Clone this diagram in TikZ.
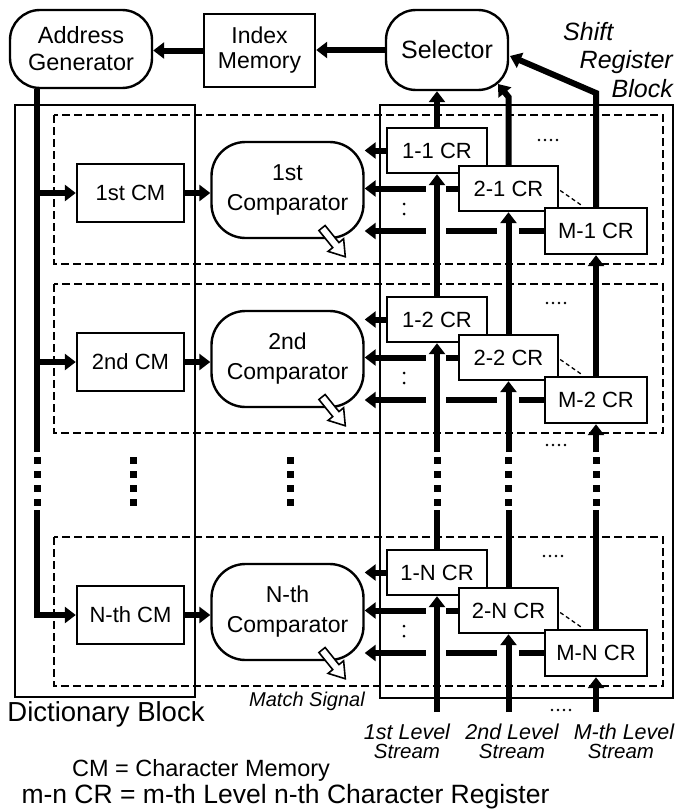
\documentclass[tikz,border=0pt]{standalone}
\usepackage{fontspec}
\setmainfont{Liberation Sans}
\usetikzlibrary{arrows.meta,calc}
\newcommand\myfs[2]{\fontsize{#1}{#2}\selectfont}
\begin{document}
\begin{tikzpicture}[x=1pt,y=-1pt,
  box/.style={draw, line width=2.4pt, fill=white, inner sep=0pt, align=center, font=\myfs{22}{27}},
  rbox/.style={box, rounded corners=#1},
  fat/.style={line width=6pt, -{Triangle[length=11pt,width=16pt]}},
  fatline/.style={line width=6pt},
  rowbox/.style={line width=1.5pt, dash pattern=on 8pt off 4pt},
  blockbox/.style={line width=1.2pt},
  lbl/.style={inner sep=0pt, anchor=base},
  sq/.style={fill=black},
]
\useasboundingbox (0,0) rectangle (679,811);

% ---- blocks
\draw[blockbox] (15,105) rectangle (195,697);
\draw[blockbox] (380,105) rectangle (673,698);

% ---- top row
\node[rbox=30pt, minimum width=142pt, minimum height=78pt, font=\myfs{23.5}{27}] (ag) at (81,49) {Address\\Generator};
\node[box, minimum width=111pt, minimum height=73pt, font=\myfs{23}{25}] (im) at (259.5,50.5) {Index\\Memory};
\node[rbox=30pt, minimum width=122pt, minimum height=80pt, font=\myfs{25}{27}] (sel) at (447,50) {Selector};
\draw[fat] (im.west) -- (ag.east |- im.west);
\draw[fat] (sel.west) -- (im.east |- sel.west);

% ---- rows
\foreach \T/\n/\ord/\dd/\dx in {128/1/1st/12/539,297/2/2nd/6/547,550/N/N-th/6/544}{
  \draw[rowbox] (54,\T-13) rectangle (663,\T+136);
  \node[box, minimum width=107pt, minimum height=58pt] (cm\n) at (130.5,\T+65) {\ord\ CM};
  \node[rbox=34pt, minimum width=152pt, minimum height=96pt, font=\myfs{23}{30}] (cmp\n) at (287.5,\T+62) {\ord\\Comparator};
  \draw[line width=1.6pt, fill=white, shift={(322,\T+100)}, rotate=-51]
     (0,-4) -- (22,-4) -- (22,-10) -- (37,0) -- (22,10) -- (22,4) -- (0,4) -- cycle;
  \node[box, minimum width=100pt, minimum height=45pt] (cr1\n) at (437,\T+22.5) {1-\n\ CR};
  \node[box, minimum width=99pt, minimum height=45pt] (cr2\n) at (508.5,\T+60.5) {2-\n\ CR};
  \node[box, minimum width=102pt, minimum height=46pt] (crM\n) at (596,\T+103) {M-\n\ CR};
  % CM -> comparator
  \draw[fat] (cm\n.east) -- (cm\n.east -| cmp\n.west);
  % CR -> comparator
  \draw[fat] (cr1\n.west) -- (cr1\n.west -| cmp\n.east);
  \draw[fatline] (cr2\n.west) -- ++(-12,0);
  \draw[fat] ($(cr2\n.west)+(-32,0)$) -- (cr2\n.west -| cmp\n.east);
  \draw[fatline] (crM\n.west) -- ++(-25,0);
  \draw[fatline] ($(crM\n.west)+(-47,0)$) -- ++(-51,0);
  \draw[fat] ($(crM\n.west)+(-118,0)$) -- (crM\n.west -| cmp\n.east);
  % dashed diagonal
  \draw[line width=1.3pt, dash pattern=on 4pt off 3pt] ($(cr2\n.east)+(1,2)$) -- ($(crM\n.north west)+(37,-2)$);
  % small dots
  \foreach \k in {0,1,2,3} \fill (\dx+6*\k,\T+\dd) circle (1.3pt);
  \fill (404,\T+76) circle (1.5pt);
  \fill (404,\T+86) circle (1.5pt);
}

% ---- bus
\coordinate (busx) at (37,0);
\coordinate (dtop) at (0,452);
\coordinate (dbot) at (0,510);
\coordinate (sbot) at (0,712);
\draw[fatline] (ag.south -| busx) -- (busx |- dtop);
\draw[fat] (busx |- cm1.west) -- (cm1.west);
\draw[fat] (busx |- cm2.west) -- (cm2.west);
\draw[fat] (busx |- dbot) |- (cmN.west);

% ---- streams
\coordinate (s2a) at (508.5,97);
\coordinate (selin2) at (498,84);
\coordinate (sMa) at (596,93);
\coordinate (selin3) at (510,56);
\draw[fat] (cr11.north) -- (cr11.north |- sel.south);
\draw[fat] (cr21.north) -- (s2a) -- (selin2);
\draw[fat] (crM1.north) -- (sMa) -- (selin3);
\draw[fat] (cr12.north) -- (cr11.south);
\draw[fat] (cr22.north) -- (cr21.south);
\draw[fat] (crM2.north) -- (crM1.south);
\draw[fat] (cr12.south |- dtop) -- (cr12.south);
\draw[fat] (cr22.south |- dtop) -- (cr22.south);
\draw[fat] (crM2.south |- dtop) -- (crM2.south);
\draw[fatline] (cr1N.north) -- (cr1N.north |- dbot);
\draw[fatline] (cr2N.north) -- (cr2N.north |- dbot);
\draw[fatline] (crMN.north) -- (crMN.north |- dbot);
\draw[fat] (cr1N.south |- sbot) -- (cr1N.south);
\draw[fat] (cr2N.south |- sbot) -- (cr2N.south);
\draw[fat] (crMN.south |- sbot) -- (crMN.south);

% ---- vertical dot squares
\foreach \x in {37,133,290,437,508.5,596}
  \foreach \y in {460,474,488,502}
    \fill[sq] (\x-3.5,\y-3.5) rectangle (\x+3.5,\y+3.5);

% ---- small dots between
\foreach \k in {0,1,2,3} \fill (547+6*\k,445) circle (1.3pt);
\foreach \k in {0,1,2,3} \fill (552+6*\k,710) circle (1.3pt);

% ---- labels
\node[lbl, anchor=base west, font=\myfs{25}{27}\itshape] (tshift) at (563,40) {Shift};
\node[lbl, anchor=base east, font=\myfs{25}{27}\itshape] (treg) at (673,68) {Register};
\node[lbl, anchor=base east, font=\myfs{25}{27}\itshape] (tblock) at (673,97) {Block};
\node[lbl, font=\myfs{20}{22}\itshape] (match) at (307,706) {Match Signal};
\node[lbl, font=\myfs{27.5}{30}] (dict) at (106,721) {Dictionary Block};
\node[lbl, font=\myfs{21.5}{24}\itshape] (l1a) at (407,739) {1st Level};
\node[lbl, font=\myfs{20.5}{24}\itshape] (l1b) at (407,758) {Stream};
\node[lbl, font=\myfs{21.5}{24}\itshape] (l2a) at (512,739) {2nd Level};
\node[lbl, font=\myfs{20.5}{24}\itshape] (l2b) at (512,758) {Stream};
\node[lbl, font=\myfs{21.5}{24}\itshape] (l3a) at (624,739) {M-th Level};
\node[lbl, font=\myfs{20.5}{24}\itshape] (l3b) at (621,758) {Stream};
\node[lbl, font=\myfs{23.5}{26}] (leg1) at (201,776) {CM = Character Memory};
\node[lbl, font=\myfs{26.5}{29}] (leg2) at (285.5,803) {m-n CR = m-th Level n-th Character Register};
\end{tikzpicture}
\end{document}
